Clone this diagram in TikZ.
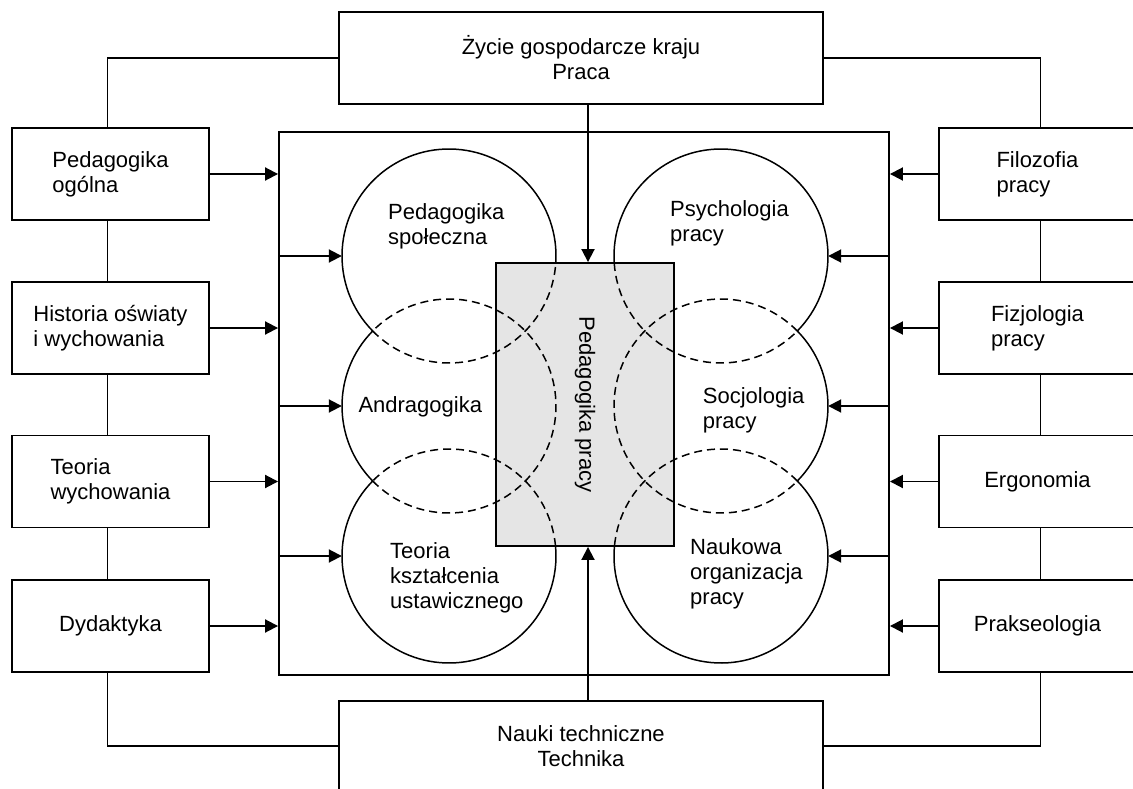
\documentclass[tikz,border=0pt]{standalone}
\usepackage{fontspec}
\setmainfont{Liberation Sans}
\usetikzlibrary{arrows.meta}
\begin{document}
\begin{tikzpicture}[x=1pt,y=1pt,
  txt/.style={font=\fontsize{22}{25}\selectfont},
  box/.style={txt, draw, line width=1.9pt, rectangle, inner sep=0pt, align=left},
  cbox/.style={box, align=center},
  ln/.style={line width=1.9pt},
  arr/.style={line width=1.9pt, -{Triangle[length=13pt,width=13pt]}},
  cnode/.style={circle, minimum size=214pt, inner sep=0pt, draw=none},
  cl/.style={line width=1.5pt},
  dcl/.style={line width=1.5pt, dash pattern=on 8pt off 5pt},
  lbl/.style={txt, inner sep=0pt, align=left, anchor=west}]
\useasboundingbox (0,0) rectangle (1133,-789);
\clip (0,0) rectangle (1133,-789);

% outer boxes
\node[cbox, minimum width=484pt, minimum height=92pt] (top) at (581,-58) {Życie gospodarcze kraju\\Praca};
\node[cbox, minimum width=484pt, minimum height=91.3pt] (bot) at (581,-746.3) {Nauki techniczne\\Technika};

\node[box, minimum width=197pt, minimum height=92pt] (l1) at (110.5,-174) {Pedagogika\\ogólna};
\node[box, minimum width=197pt, minimum height=92pt] (l2) at (110.5,-328) {Historia oświaty\\i wychowania};
\node[box, minimum width=197pt, minimum height=92pt] (l3) at (110.5,-481.5) {Teoria\\wychowania};
\node[box, minimum width=197pt, minimum height=92pt] (l4) at (110.5,-626) {Dydaktyka};

\node[box, minimum width=197pt, minimum height=92pt] (r1) at (1037.5,-174) {Filozofia\\pracy};
\node[box, minimum width=197pt, minimum height=92pt] (r2) at (1037.5,-328) {Fizjologia\\pracy};
\node[box, minimum width=197pt, minimum height=92pt] (r3) at (1037.5,-481.5) {Ergonomia};
\node[box, minimum width=197pt, minimum height=92pt] (r4) at (1037.5,-626) {Prakseologia};

% frame and central rectangle
\node[draw, line width=1.9pt, minimum width=610pt, minimum height=543pt, inner sep=0pt] (frame) at (584,-403.5) {};
\node[draw, line width=1.9pt, fill=gray!20, minimum width=178pt, minimum height=283pt, inner sep=0pt] (rect) at (585,-404.5) {};
\node[txt, rotate=-90, inner sep=0pt] (rlbl) at (rect.center) {Pedagogika pracy};

% circle nodes (for anchors)
\node[cnode] (c1) at (449,-256) {};
\node[cnode] (c2) at (449,-406) {};
\node[cnode] (c3) at (449,-556) {};
\node[cnode] (c4) at (721,-256) {};
\node[cnode] (c5) at (721,-406) {};
\node[cnode] (c6) at (721,-556) {};

% circle arcs: solid and dashed parts
\draw[cl]  ([shift={(-3.75:107pt)}]c1.center) arc[start angle=-3.75, end angle=224.5, radius=107pt];
\draw[dcl] ([shift={(224.5:107pt)}]c1.center) arc[start angle=224.5, end angle=356.25, radius=107pt];

\draw[cl]  ([shift={(135.5:107pt)}]c2.center) arc[start angle=135.5, end angle=224.5, radius=107pt];
\draw[dcl] ([shift={(224.5:107pt)}]c2.center) arc[start angle=224.5, end angle=495.5, radius=107pt];

\draw[cl]  ([shift={(135.5:107pt)}]c3.center) arc[start angle=135.5, end angle=365.36, radius=107pt];
\draw[dcl] ([shift={(5.36:107pt)}]c3.center) arc[start angle=5.36, end angle=135.5, radius=107pt];

\draw[cl]  ([shift={(-44.5:107pt)}]c4.center) arc[start angle=-44.5, end angle=183.75, radius=107pt];
\draw[dcl] ([shift={(183.75:107pt)}]c4.center) arc[start angle=183.75, end angle=315.5, radius=107pt];

\draw[cl]  ([shift={(-44.5:107pt)}]c5.center) arc[start angle=-44.5, end angle=44.5, radius=107pt];
\draw[dcl] ([shift={(44.5:107pt)}]c5.center) arc[start angle=44.5, end angle=315.5, radius=107pt];

\draw[cl]  ([shift={(174.64:107pt)}]c6.center) arc[start angle=174.64, end angle=404.5, radius=107pt];
\draw[dcl] ([shift={(44.5:107pt)}]c6.center) arc[start angle=44.5, end angle=174.64, radius=107pt];

% circle labels
\node[lbl] (t1) at (388,-226.8) {Pedagogika\\społeczna};
\node[lbl] (t4) at (670,-223.5) {Psychologia\\pracy};
\node[lbl] (t2) at (358.3,-407) {Andragogika};
\node[lbl] (t5) at (702.7,-410) {Socjologia\\pracy};
\node[lbl] (t3) at (390,-577.6) {Teoria\\kształcenia\\ustawicznego};
\node[lbl] (t6) at (690,-574.3) {Naukowa\\organizacja\\pracy};

% connectors between outer boxes
\draw[ln] (top.west) -| ([xshift=-3pt]l1.north);
\draw[ln] ([xshift=-3pt]l1.south) -- ([xshift=-3pt]l2.north);
\draw[ln] ([xshift=-3pt]l2.south) -- ([xshift=-3pt]l3.north);
\draw[ln] ([xshift=-3pt]l3.south) -- ([xshift=-3pt]l4.north);
\draw[ln] ([xshift=-3pt]l4.south) |- (bot.west);
\draw[ln] (top.east) -| ([xshift=3pt]r1.north);
\draw[ln] ([xshift=3pt]r1.south) -- ([xshift=3pt]r2.north);
\draw[ln] ([xshift=3pt]r2.south) -- ([xshift=3pt]r3.north);
\draw[ln] ([xshift=3pt]r3.south) -- ([xshift=3pt]r4.north);
\draw[ln] ([xshift=3pt]r4.south) |- (bot.east);

% arrows from left boxes to frame
\foreach \b in {l1,l2,l3,l4} \draw[arr] (\b.east) -- (\b.east -| frame.west);
\foreach \b in {r1,r2,r3,r4} \draw[arr] (\b.west) -- (\b.west -| frame.east);

% arrows from frame to circles
\foreach \c in {c1,c2,c3} \draw[arr] (\c.west -| frame.west) -- (\c.west);
\foreach \c in {c4,c5,c6} \draw[arr] (\c.east -| frame.east) -- (\c.east);

% vertical arrows to central rectangle
\draw[arr] ([xshift=3pt]rect.north |- top.south) -- ([xshift=3pt]rect.north);
\draw[arr] ([xshift=3pt]rect.south |- bot.north) -- ([xshift=3pt]rect.south);
\end{tikzpicture}
\end{document}
